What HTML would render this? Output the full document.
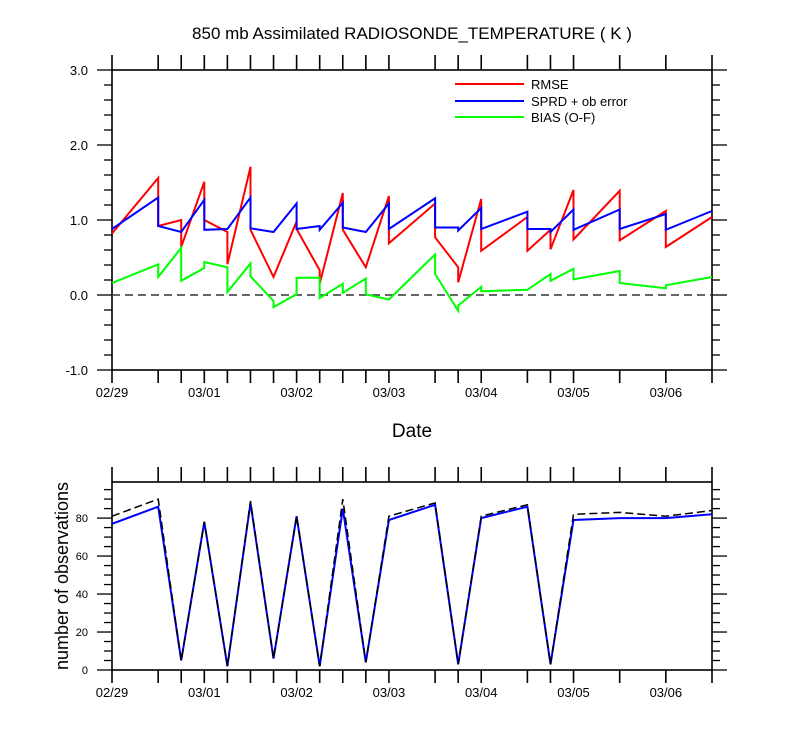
<!DOCTYPE html>
<html><head><meta charset="utf-8"><style>
body{margin:0;background:#fff;}
svg{display:block;font-family:"Liberation Sans",Arial,sans-serif;}
</style></head><body>
<svg id="chart" width="800" height="750" viewBox="0 0 800 750">
<text x="412" y="39" font-size="17" text-anchor="middle">850 mb Assimilated RADIOSONDE_TEMPERATURE ( K )</text>
<text x="412" y="437" font-size="19" text-anchor="middle">Date</text>
<text transform="translate(68,576) rotate(-90)" font-size="18" text-anchor="middle">number of observations</text>
<g id="topPanel"></g>
<g id="botPanel"></g>
<g id="legend">
<line x1="455" y1="84" x2="524" y2="84" stroke="#f00" stroke-width="2"/>
<text x="531" y="89" font-size="13">RMSE</text>
<line x1="455" y1="101" x2="524" y2="101" stroke="#00f" stroke-width="2"/>
<text x="531" y="106" font-size="13">SPRD + ob error</text>
<line x1="455" y1="117" x2="524" y2="117" stroke="#0f0" stroke-width="2"/>
<text x="531" y="122" font-size="13">BIAS (O-F)</text>
</g>
</svg>
<script>
const hours = [0,12,18,24,30,36,42,48,54,60,66,72,84,90,96,108,114,120,132,144,156];
const dateLabels = ["02/29","03/01","03/02","03/03","03/04","03/05","03/06"];
const dateHours = [0,24,48,72,96,120,144];
const rmseIn  = [0.82,1.56,1.00,1.51,0.84,1.71,0.24,0.98,0.33,1.36,0.37,1.32,1.22,0.37,1.28,1.04,0.87,1.40,1.39,1.12,1.04];
const rmseOut = [0.82,0.92,0.64,1.00,0.41,0.87,0.24,0.88,0.15,0.87,0.37,0.69,0.77,0.17,0.59,0.59,0.61,0.74,0.73,0.64,1.04];
const sprdIn  = [0.88,1.30,0.84,1.27,0.88,1.30,0.84,1.22,0.92,1.23,0.84,1.22,1.29,0.90,1.16,1.11,0.88,1.14,1.14,1.08,1.12];
const sprdOut = [0.88,0.92,0.84,0.87,0.88,0.89,0.84,0.88,0.87,0.90,0.84,0.88,0.90,0.86,0.88,0.88,0.84,0.87,0.88,0.87,1.12];
const biasIn  = [0.16,0.41,0.63,0.36,0.37,0.42,-0.08,0.01,0.23,0.15,0.22,-0.06,0.54,-0.21,0.11,0.07,0.28,0.35,0.32,0.09,0.24];
const biasOut = [0.16,0.24,0.19,0.44,0.04,0.25,-0.16,0.23,-0.04,0.03,0.01,-0.06,0.28,-0.14,0.05,0.07,0.19,0.21,0.16,0.13,0.24];
const obsUsed  = [77,86,5,78,2,88,6,81,2,85,4,79,87,3,80,86,3,79,80,80,82];
const obsTotal = [81,90,5,78,2,89,6,81,2,90,4,81,88,3,81,87,3,82,83,81,84];
const topTicks = [-1,0,1,2,3];
const topTickLabels = ["-1.0","0.0","1.0","2.0","3.0"];
const botTicks = [0,20,40,60,80];

const NS="http://www.w3.org/2000/svg";
const X0=112,X1=712;
const xs=h=>X0+(h-0)/(156-0)*(X1-X0);
const yTop=v=>370-(v+1)/4*300;
const yBot=v=>670-v/99*188;
function mk(p,tag,attrs){const e=document.createElementNS(NS,tag);for(const k in attrs)e.setAttribute(k,attrs[k]);p.appendChild(e);return e;}

const topG=document.getElementById('topPanel'), botG=document.getElementById('botPanel');
function frame(g,y0,y1,nm){
  const r=mk(g,'rect',{x:X0,y:y0,width:X1-X0,height:y1-y0,fill:'none',stroke:'#000','stroke-width':1.6});
  
  
  hours.forEach(h=>{
    const t1=mk(g,'line',{x1:xs(h),x2:xs(h),y1:y0,y2:y0-15,stroke:'#000','stroke-width':1.6});
    
    
    const t2=mk(g,'line',{x1:xs(h),x2:xs(h),y1:y1,y2:y1+13,stroke:'#000','stroke-width':1.6});
    
    
  });
  dateHours.forEach((h,i)=>{
    const t=mk(g,'text',{x:xs(h),y:y1+27,'font-size':13,'text-anchor':'middle'});
    t.textContent=dateLabels[i];
    
    
  });
}
function yticks(g,ys,vals,minor,lo,hi,labels,nm){
  for(let v=lo;v<=hi+1e-9;v+=minor){
    const isMaj=vals.some(m=>Math.abs(m-v)<1e-6);
    const L=isMaj?15:8;
    const a=mk(g,'line',{x1:X0,x2:X0-L,y1:ys(v),y2:ys(v),stroke:'#000','stroke-width':1.3});
    
    
    const b=mk(g,'line',{x1:X1,x2:X1+L,y1:ys(v),y2:ys(v),stroke:'#000','stroke-width':1.3});
    
    
  }
  vals.forEach((v,i)=>{
    const t=mk(g,'text',{x:X0-24,y:ys(v)+(nm==='top'?5:4),'font-size':nm==='top'?13:11,'text-anchor':'end'});
    t.textContent=labels[i];
    
    
  });
}
frame(topG,70,370,'top');
yticks(topG,yTop,topTicks,0.2,-1,3,topTickLabels,'top');
frame(botG,482,670,'bottom');
yticks(botG,yBot,botTicks,5,0,95,botTicks.map(String),'bottom');

const zl=mk(topG,'line',{x1:X0,x2:X1,y1:yTop(0),y2:yTop(0),stroke:'#333','stroke-width':1.6,'stroke-dasharray':'8,5'});



function saw(inA,outA){
  const pts=[];
  hours.forEach((h,i)=>{pts.push([xs(h),yTop(inA[i])]);if(i<hours.length-1)pts.push([xs(h),yTop(outA[i])]);});
  return pts.map(p=>p[0].toFixed(1)+','+p[1].toFixed(1)).join(' ');
}
const pr=mk(topG,'polyline',{points:saw(rmseIn,rmseOut),fill:'none',stroke:'#f00','stroke-width':2});


const pb=mk(topG,'polyline',{points:saw(biasIn,biasOut),fill:'none',stroke:'#0f0','stroke-width':2});


const ps=mk(topG,'polyline',{points:saw(sprdIn,sprdOut),fill:'none',stroke:'#00f','stroke-width':2});



const pu=mk(botG,'polyline',{points:hours.map((h,i)=>xs(h).toFixed(1)+','+yBot(obsUsed[i]).toFixed(1)).join(' '),fill:'none',stroke:'#00f','stroke-width':2});


const pt=mk(botG,'polyline',{points:hours.map((h,i)=>xs(h).toFixed(1)+','+yBot(obsTotal[i]).toFixed(1)).join(' '),fill:'none',stroke:'#000','stroke-width':1.5,'stroke-dasharray':'8,4'});


</script>
</body></html>
